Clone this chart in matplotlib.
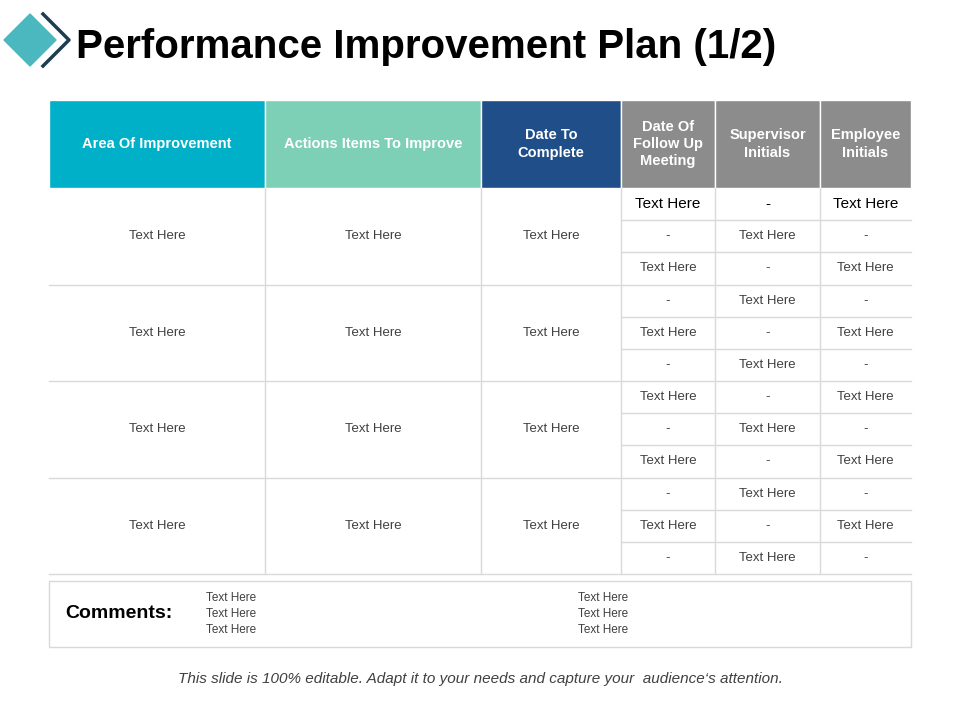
import matplotlib
matplotlib.use('Agg')
import matplotlib.pyplot as plt
from matplotlib.patches import Rectangle, Polygon

plt.rcParams['font.family'] = 'Liberation Sans'

title = "Performance Improvement Plan (1/2)"
headers = ["Area Of Improvement", "Actions Items To Improve", "Date To\nComplete",
           "Date Of\nFollow Up\nMeeting", "Supervisor\nInitials", "Employee\nInitials"]
header_colors = ["#00afc8", "#7dcfb6", "#1f4e89", "#8c8c8c", "#8c8c8c", "#8c8c8c"]
group_text = ["Text Here", "Text Here", "Text Here"]
row_a = ["Text Here", "-", "Text Here"]
row_b = ["-", "Text Here", "-"]
n_groups = 4
sub_rows = 3
comments_left = ["Text Here", "Text Here", "Text Here"]
comments_right = ["Text Here", "Text Here", "Text Here"]
footer = "This slide is 100% editable. Adapt it to your needs and capture your  audience\u2018s attention."

col_x = [49, 265, 481, 621, 715, 820, 911]
head_top, head_bot, table_bot = 100, 188, 574
grid = "#d9d9d9"
txt = "#404040"

fig = plt.figure(figsize=(9.6, 7.2), dpi=100)
ax = fig.add_axes([0, 0, 1, 1])
ax.set_xlim(0, 960)
ax.set_ylim(720, 0)
ax.axis('off')

# icon
ax.add_patch(Polygon([[4, 40], [30, 14], [56, 40], [30, 66]], closed=True, color="#4bb8c0"))
ax.plot([43, 69, 43], [14, 40, 66], color="#1d3d50", lw=2.5)
ax.text(76, 47, title, fontsize=29, fontweight='bold', va='center', ha='left', color='black')

# header
for i, h in enumerate(headers):
    ax.add_patch(Rectangle((col_x[i], head_top), col_x[i + 1] - col_x[i], head_bot - head_top,
                           color=header_colors[i], ec='white', lw=1))
    ax.text((col_x[i] + col_x[i + 1]) / 2, (head_top + head_bot) / 2, h, color='white',
            fontsize=10.5, fontweight='bold', ha='center', va='center', linespacing=1.3)

# body
gh = (table_bot - head_bot) / n_groups
sh = gh / sub_rows
for g in range(n_groups):
    y0 = head_bot + g * gh
    ax.plot([col_x[0], col_x[-1]], [y0 + gh, y0 + gh], color=grid, lw=1)
    for c in range(3):
        ax.text((col_x[c] + col_x[c + 1]) / 2, y0 + gh / 2, group_text[c], color=txt,
                fontsize=9.5, ha='center', va='center')
    for s in range(sub_rows):
        idx = g * sub_rows + s
        vals = row_a if idx % 2 == 0 else row_b
        ys = y0 + s * sh
        if s > 0:
            ax.plot([col_x[3], col_x[-1]], [ys, ys], color=grid, lw=1)
        for c in range(3):
            big = idx == 0
            ax.text((col_x[3 + c] + col_x[4 + c]) / 2, ys + sh / 2, vals[c],
                    color='black' if big else txt, fontsize=11 if big else 9.5,
                    ha='center', va='center')
for x in col_x[1:-1]:
    ax.plot([x, x], [head_bot, table_bot], color=grid, lw=1)

# comments box
ax.add_patch(Rectangle((49, 581), 862, 66, fill=False, ec=grid, lw=1))
ax.text(65, 614, "Comments:", fontsize=14, fontweight='bold', va='center', ha='left')
for i, (l, r) in enumerate(zip(comments_left, comments_right)):
    ax.text(206, 598 + i * 16, l, fontsize=8.5, color=txt, va='center', ha='left')
    ax.text(578, 598 + i * 16, r, fontsize=8.5, color=txt, va='center', ha='left')

ax.text(480, 679, footer, fontsize=11, style='italic', color="#404040", ha='center', va='center')

fig.savefig("out.png", dpi=100)
